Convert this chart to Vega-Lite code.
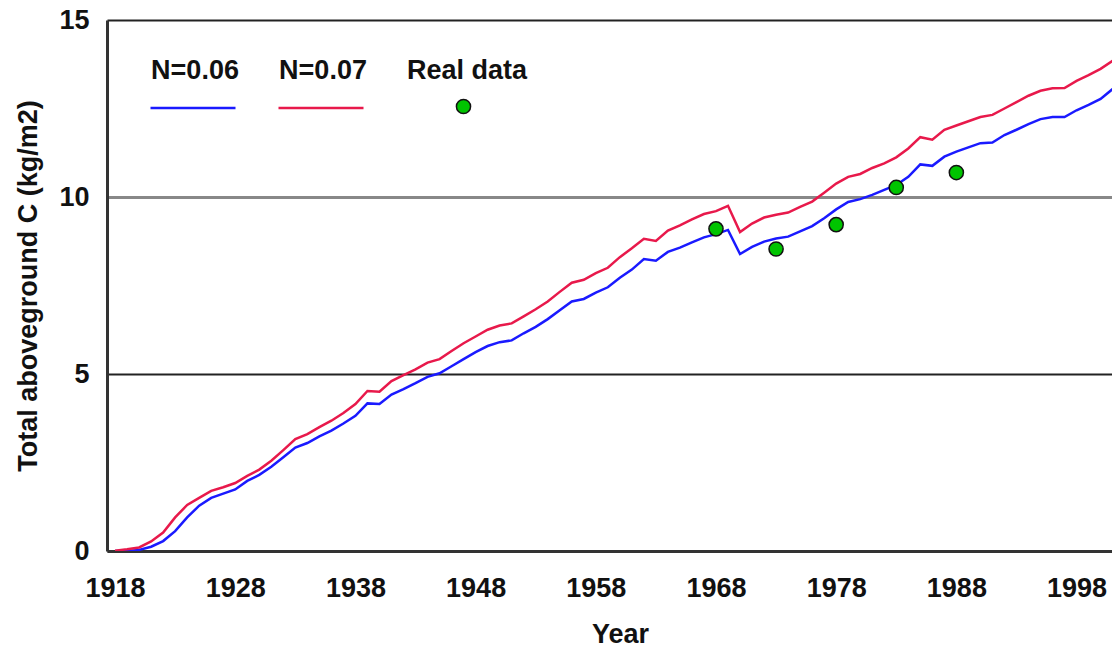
{
  "$schema": "https://vega.github.io/schema/vega-lite/v6.json",
  "width": 1005,
  "height": 531,
  "autosize": {"type": "none"},
  "padding": {"left": 107, "top": 20, "right": 0, "bottom": 96},
  "background": "white",
  "config": {"view": {"stroke": null}, "font": "Liberation Sans"},
  "datasets": {
    "model06": [
      {"year":1918,"series":"N=0.06","carbon":0.0},{"year":1919,"series":"N=0.06","carbon":0.0},{"year":1920,"series":"N=0.06","carbon":0.03},{"year":1921,"series":"N=0.06","carbon":0.12},{"year":1922,"series":"N=0.06","carbon":0.28},{"year":1923,"series":"N=0.06","carbon":0.56},{"year":1924,"series":"N=0.06","carbon":0.95},{"year":1925,"series":"N=0.06","carbon":1.28},{"year":1926,"series":"N=0.06","carbon":1.5},{"year":1927,"series":"N=0.06","carbon":1.62},{"year":1928,"series":"N=0.06","carbon":1.74},{"year":1929,"series":"N=0.06","carbon":1.98},{"year":1930,"series":"N=0.06","carbon":2.15},{"year":1931,"series":"N=0.06","carbon":2.38},{"year":1932,"series":"N=0.06","carbon":2.65},{"year":1933,"series":"N=0.06","carbon":2.92},{"year":1934,"series":"N=0.06","carbon":3.05},{"year":1935,"series":"N=0.06","carbon":3.24},{"year":1936,"series":"N=0.06","carbon":3.4},{"year":1937,"series":"N=0.06","carbon":3.6},{"year":1938,"series":"N=0.06","carbon":3.82},{"year":1939,"series":"N=0.06","carbon":4.17},{"year":1940,"series":"N=0.06","carbon":4.15},{"year":1941,"series":"N=0.06","carbon":4.42},{"year":1942,"series":"N=0.06","carbon":4.57},{"year":1943,"series":"N=0.06","carbon":4.74},{"year":1944,"series":"N=0.06","carbon":4.92},{"year":1945,"series":"N=0.06","carbon":5.02},{"year":1946,"series":"N=0.06","carbon":5.22},{"year":1947,"series":"N=0.06","carbon":5.42},{"year":1948,"series":"N=0.06","carbon":5.62},{"year":1949,"series":"N=0.06","carbon":5.79},{"year":1950,"series":"N=0.06","carbon":5.9},{"year":1951,"series":"N=0.06","carbon":5.95},{"year":1952,"series":"N=0.06","carbon":6.15},{"year":1953,"series":"N=0.06","carbon":6.33},{"year":1954,"series":"N=0.06","carbon":6.55},{"year":1955,"series":"N=0.06","carbon":6.8},{"year":1956,"series":"N=0.06","carbon":7.05},{"year":1957,"series":"N=0.06","carbon":7.12},{"year":1958,"series":"N=0.06","carbon":7.3},{"year":1959,"series":"N=0.06","carbon":7.45},{"year":1960,"series":"N=0.06","carbon":7.72},{"year":1961,"series":"N=0.06","carbon":7.95},{"year":1962,"series":"N=0.06","carbon":8.25},{"year":1963,"series":"N=0.06","carbon":8.2},{"year":1964,"series":"N=0.06","carbon":8.45},{"year":1965,"series":"N=0.06","carbon":8.57},{"year":1966,"series":"N=0.06","carbon":8.72},{"year":1967,"series":"N=0.06","carbon":8.86},{"year":1968,"series":"N=0.06","carbon":8.95},{"year":1969,"series":"N=0.06","carbon":9.07},{"year":1970,"series":"N=0.06","carbon":8.39},{"year":1971,"series":"N=0.06","carbon":8.59},{"year":1972,"series":"N=0.06","carbon":8.74},{"year":1973,"series":"N=0.06","carbon":8.83},{"year":1974,"series":"N=0.06","carbon":8.88},{"year":1975,"series":"N=0.06","carbon":9.03},{"year":1976,"series":"N=0.06","carbon":9.18},{"year":1977,"series":"N=0.06","carbon":9.4},{"year":1978,"series":"N=0.06","carbon":9.65},{"year":1979,"series":"N=0.06","carbon":9.86},{"year":1980,"series":"N=0.06","carbon":9.94},{"year":1981,"series":"N=0.06","carbon":10.06},{"year":1982,"series":"N=0.06","carbon":10.2},{"year":1983,"series":"N=0.06","carbon":10.34},{"year":1984,"series":"N=0.06","carbon":10.57},{"year":1985,"series":"N=0.06","carbon":10.92},{"year":1986,"series":"N=0.06","carbon":10.88},{"year":1987,"series":"N=0.06","carbon":11.14},{"year":1988,"series":"N=0.06","carbon":11.28},{"year":1989,"series":"N=0.06","carbon":11.4},{"year":1990,"series":"N=0.06","carbon":11.52},{"year":1991,"series":"N=0.06","carbon":11.54},{"year":1992,"series":"N=0.06","carbon":11.75},{"year":1993,"series":"N=0.06","carbon":11.9},{"year":1994,"series":"N=0.06","carbon":12.06},{"year":1995,"series":"N=0.06","carbon":12.2},{"year":1996,"series":"N=0.06","carbon":12.26},{"year":1997,"series":"N=0.06","carbon":12.26},{"year":1998,"series":"N=0.06","carbon":12.45},{"year":1999,"series":"N=0.06","carbon":12.6},{"year":2000,"series":"N=0.06","carbon":12.77},{"year":2001,"series":"N=0.06","carbon":13.05}
    ],
    "model07": [
      {"year":1918,"series":"N=0.07","carbon":0.01},{"year":1919,"series":"N=0.07","carbon":0.05},{"year":1920,"series":"N=0.07","carbon":0.1},{"year":1921,"series":"N=0.07","carbon":0.27},{"year":1922,"series":"N=0.07","carbon":0.52},{"year":1923,"series":"N=0.07","carbon":0.95},{"year":1924,"series":"N=0.07","carbon":1.3},{"year":1925,"series":"N=0.07","carbon":1.5},{"year":1926,"series":"N=0.07","carbon":1.7},{"year":1927,"series":"N=0.07","carbon":1.8},{"year":1928,"series":"N=0.07","carbon":1.92},{"year":1929,"series":"N=0.07","carbon":2.12},{"year":1930,"series":"N=0.07","carbon":2.3},{"year":1931,"series":"N=0.07","carbon":2.55},{"year":1932,"series":"N=0.07","carbon":2.85},{"year":1933,"series":"N=0.07","carbon":3.16},{"year":1934,"series":"N=0.07","carbon":3.3},{"year":1935,"series":"N=0.07","carbon":3.5},{"year":1936,"series":"N=0.07","carbon":3.68},{"year":1937,"series":"N=0.07","carbon":3.9},{"year":1938,"series":"N=0.07","carbon":4.15},{"year":1939,"series":"N=0.07","carbon":4.52},{"year":1940,"series":"N=0.07","carbon":4.5},{"year":1941,"series":"N=0.07","carbon":4.8},{"year":1942,"series":"N=0.07","carbon":4.97},{"year":1943,"series":"N=0.07","carbon":5.13},{"year":1944,"series":"N=0.07","carbon":5.32},{"year":1945,"series":"N=0.07","carbon":5.42},{"year":1946,"series":"N=0.07","carbon":5.65},{"year":1947,"series":"N=0.07","carbon":5.87},{"year":1948,"series":"N=0.07","carbon":6.06},{"year":1949,"series":"N=0.07","carbon":6.25},{"year":1950,"series":"N=0.07","carbon":6.37},{"year":1951,"series":"N=0.07","carbon":6.43},{"year":1952,"series":"N=0.07","carbon":6.63},{"year":1953,"series":"N=0.07","carbon":6.83},{"year":1954,"series":"N=0.07","carbon":7.05},{"year":1955,"series":"N=0.07","carbon":7.32},{"year":1956,"series":"N=0.07","carbon":7.58},{"year":1957,"series":"N=0.07","carbon":7.66},{"year":1958,"series":"N=0.07","carbon":7.85},{"year":1959,"series":"N=0.07","carbon":8.0},{"year":1960,"series":"N=0.07","carbon":8.3},{"year":1961,"series":"N=0.07","carbon":8.55},{"year":1962,"series":"N=0.07","carbon":8.82},{"year":1963,"series":"N=0.07","carbon":8.76},{"year":1964,"series":"N=0.07","carbon":9.05},{"year":1965,"series":"N=0.07","carbon":9.2},{"year":1966,"series":"N=0.07","carbon":9.37},{"year":1967,"series":"N=0.07","carbon":9.52},{"year":1968,"series":"N=0.07","carbon":9.6},{"year":1969,"series":"N=0.07","carbon":9.75},{"year":1970,"series":"N=0.07","carbon":9.01},{"year":1971,"series":"N=0.07","carbon":9.25},{"year":1972,"series":"N=0.07","carbon":9.42},{"year":1973,"series":"N=0.07","carbon":9.5},{"year":1974,"series":"N=0.07","carbon":9.56},{"year":1975,"series":"N=0.07","carbon":9.72},{"year":1976,"series":"N=0.07","carbon":9.87},{"year":1977,"series":"N=0.07","carbon":10.12},{"year":1978,"series":"N=0.07","carbon":10.38},{"year":1979,"series":"N=0.07","carbon":10.57},{"year":1980,"series":"N=0.07","carbon":10.65},{"year":1981,"series":"N=0.07","carbon":10.82},{"year":1982,"series":"N=0.07","carbon":10.95},{"year":1983,"series":"N=0.07","carbon":11.12},{"year":1984,"series":"N=0.07","carbon":11.37},{"year":1985,"series":"N=0.07","carbon":11.69},{"year":1986,"series":"N=0.07","carbon":11.62},{"year":1987,"series":"N=0.07","carbon":11.9},{"year":1988,"series":"N=0.07","carbon":12.02},{"year":1989,"series":"N=0.07","carbon":12.14},{"year":1990,"series":"N=0.07","carbon":12.26},{"year":1991,"series":"N=0.07","carbon":12.32},{"year":1992,"series":"N=0.07","carbon":12.5},{"year":1993,"series":"N=0.07","carbon":12.68},{"year":1994,"series":"N=0.07","carbon":12.86},{"year":1995,"series":"N=0.07","carbon":13.0},{"year":1996,"series":"N=0.07","carbon":13.07},{"year":1997,"series":"N=0.07","carbon":13.08},{"year":1998,"series":"N=0.07","carbon":13.28},{"year":1999,"series":"N=0.07","carbon":13.44},{"year":2000,"series":"N=0.07","carbon":13.62},{"year":2001,"series":"N=0.07","carbon":13.85}
    ],
    "real": [
      {"year":1968,"series":"Real data","carbon":9.1},
      {"year":1973,"series":"Real data","carbon":8.53},
      {"year":1978,"series":"Real data","carbon":9.22},
      {"year":1983,"series":"Real data","carbon":10.27},
      {"year":1988,"series":"Real data","carbon":10.69}
    ]
  },
  "encoding": {
    "x": {
      "field": "year", "type": "quantitative",
      "scale": {"domain": [1917.33, 2000.95], "nice": false, "zero": false},
      "axis": {
        "title": "Year", "values": [1918,1928,1938,1948,1958,1968,1978,1988,1998], "format": "d",
        "grid": false, "ticks": false, "domainColor": "#333333", "domainWidth": 3,
        "labelFont": "Liberation Sans", "labelFontSize": 27, "labelFontWeight": "bold", "labelColor": "#111111",
        "labelPadding": 24, "labelFlush": false, "labelOverlap": false,
        "titleFont": "Liberation Sans", "titleFontSize": 27, "titleFontWeight": "bold", "titleColor": "#111111",
        "titlePadding": 20, "titleX": 513
      }
    },
    "y": {
      "field": "carbon", "type": "quantitative",
      "scale": {"domain": [0, 15], "nice": false},
      "axis": {
        "title": "Total aboveground C (kg/m2)", "values": [0,5,10,15],
        "grid": true,
        "gridColor": {"condition": {"test": "datum.value === 10", "value": "#888888"}, "value": "#222222"},
        "gridWidth": {"condition": {"test": "datum.value === 10", "value": 3}, "value": 2},
        "ticks": false, "domainColor": "#333333", "domainWidth": 3,
        "labelFont": "Liberation Sans", "labelFontSize": 27, "labelFontWeight": "bold", "labelColor": "#111111",
        "labelPadding": 18,
        "titleFont": "Liberation Sans", "titleFontSize": 27, "titleFontWeight": "bold", "titleColor": "#111111",
        "titlePadding": 16
      }
    }
  },
  "layer": [
    {
      "data": {"name": "model06"},
      "mark": {"type": "line", "strokeWidth": 2.5, "clip": true},
      "encoding": {
        "color": {
          "field": "series", "type": "nominal",
          "scale": {"domain": ["N=0.06"], "range": ["#1a1aff"]},
          "legend": {
            "title": "N=0.06", "orient": "none", "legendX": 42, "legendY": 38, "direction": "horizontal", "padding": 0,
            "titleOrient": "top", "titleAnchor": "middle", "titleAlign": "center", "titleBaseline": "top", "titlePadding": -21,
            "titleFont": "Liberation Sans", "titleFontSize": 27, "titleFontWeight": "bold", "titleColor": "#111111", "titleLimit": 400,
            "symbolType": "stroke", "symbolSize": 7225, "symbolStrokeWidth": 2.5,
            "labelExpr": "''", "labelOffset": 0, "labelFontSize": 27
          }
        }
      }
    },
    {
      "data": {"name": "model07"},
      "mark": {"type": "line", "strokeWidth": 2.5, "clip": true},
      "encoding": {
        "stroke": {
          "field": "series", "type": "nominal",
          "scale": {"domain": ["N=0.07"], "range": ["#e8194b"]},
          "legend": {
            "title": "N=0.07", "orient": "none", "legendX": 170, "legendY": 38, "direction": "horizontal", "padding": 0,
            "titleOrient": "top", "titleAnchor": "middle", "titleAlign": "center", "titleBaseline": "top", "titlePadding": -21,
            "titleFont": "Liberation Sans", "titleFontSize": 27, "titleFontWeight": "bold", "titleColor": "#111111", "titleLimit": 400,
            "symbolType": "stroke", "symbolSize": 7225, "symbolStrokeWidth": 2.5,
            "labelExpr": "''", "labelOffset": 0, "labelFontSize": 27
          }
        }
      }
    },
    {
      "data": {"name": "real"},
      "mark": {"type": "point", "filled": true, "size": 200, "stroke": "#111111", "strokeWidth": 1.5, "opacity": 1},
      "encoding": {
        "fill": {
          "field": "series", "type": "nominal",
          "scale": {"domain": ["Real data"], "range": ["#00c400"]},
          "legend": {
            "title": "Real data", "orient": "none", "legendX": 300, "legendY": 38, "direction": "horizontal", "padding": 0,
            "titleOrient": "top", "titleAnchor": "middle", "titleAlign": "center", "titleBaseline": "top", "titlePadding": 8,
            "titleFont": "Liberation Sans", "titleFontSize": 27, "titleFontWeight": "bold", "titleColor": "#111111", "titleLimit": 400,
            "symbolType": "circle", "symbolSize": 200, "symbolStrokeColor": "#111111", "symbolStrokeWidth": 1.5,
            "labelExpr": "''", "labelOffset": 6, "labelFontSize": 27
          }
        }
      }
    }
  ]
}
